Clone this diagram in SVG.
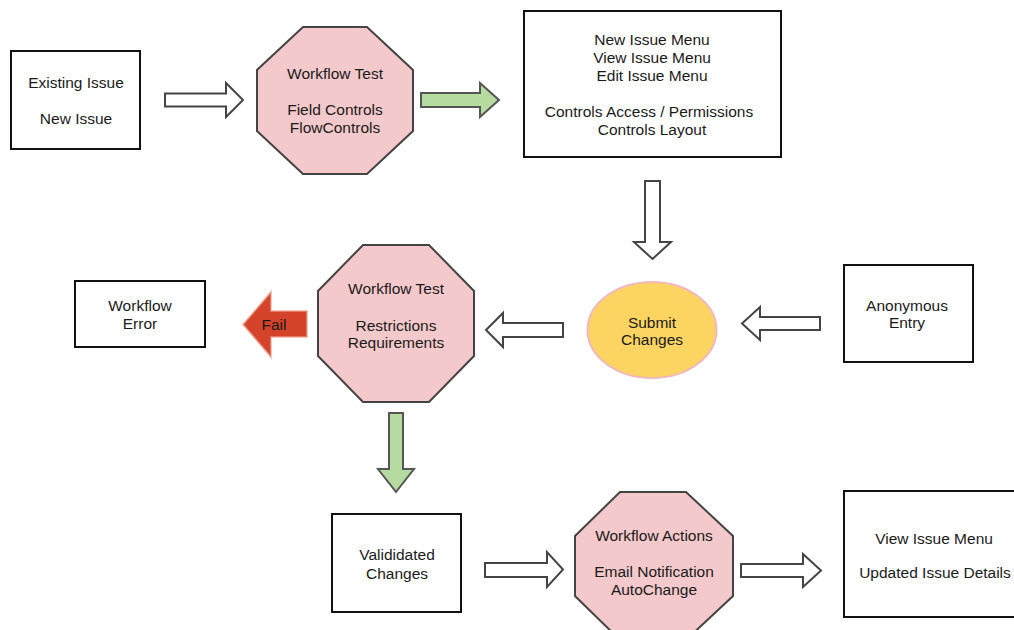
<svg xmlns="http://www.w3.org/2000/svg" width="1014" height="630" viewBox="0 0 1014 630">
<style>
text{font-family:"Liberation Sans",Arial,sans-serif;font-size:15.5px;fill:#1a1a1a;text-anchor:middle;dominant-baseline:central}
.box{fill:#fff;stroke:#111;stroke-width:2}
.oct{fill:#f4c9cb;stroke:#444;stroke-width:2}
.wa{fill:#fff;stroke:#444;stroke-width:2;stroke-linejoin:miter}
.ga{fill:#b5dba1;stroke:#555;stroke-width:2}
.ra{fill:#d4432a;stroke:#eaa090;stroke-width:2;stroke-opacity:0.6}
</style>
<rect width="1014" height="630" fill="#fff"/>
<g id="n-existing">
<rect class="box" x="11" y="51" width="129" height="98"/>
<text x="76" y="82">Existing Issue</text>
<text x="76" y="118">New Issue</text>
</g>
<g id="n-wftest1">
<polygon class="oct" points="303,27 367,27 413,70 413,131 367,174 303,174 257,131 257,70"/>
<text x="335" y="73">Workflow Test</text>
<text x="335" y="109">Field Controls</text>
<text x="335" y="127">FlowControls</text>
</g>
<g id="n-menus">
<rect class="box" x="524" y="11" width="257" height="146"/>
<text x="652" y="39">New Issue Menu</text>
<text x="652" y="57">View Issue Menu</text>
<text x="652" y="75">Edit Issue Menu</text>
<text x="649" y="111">Controls Access / Permissions</text>
<text x="652" y="129">Controls Layout</text>
</g>
<g id="n-submit">
<ellipse cx="652" cy="330" rx="64.5" ry="48" fill="#fcd462" stroke="#f0b8c0" stroke-width="2"/>
<text x="652" y="322">Submit</text>
<text x="652" y="339">Changes</text>
</g>
<g id="n-anon">
<rect class="box" x="844" y="265" width="129" height="97"/>
<text x="907" y="305">Anonymous</text>
<text x="907" y="322">Entry</text>
</g>
<g id="n-wftest2">
<polygon class="oct" points="363,245 429,245 474,291 474,356 429,402 363,402 318,356 318,291"/>
<text x="396" y="288">Workflow Test</text>
<text x="396" y="325">Restrictions</text>
<text x="396" y="342">Requirements</text>
</g>
<g id="n-error">
<rect class="box" x="75" y="281" width="130" height="66"/>
<text x="140" y="305">Workflow</text>
<text x="140" y="323">Error</text>
</g>
<g id="n-validated">
<rect class="box" x="332" y="514" width="129" height="98"/>
<text x="397" y="554">Valididated</text>
<text x="397" y="573">Changes</text>
</g>
<g id="n-actions">
<polygon class="oct" points="620,492 686,492 733,536 733,596 686,640 620,640 575,596 575,536"/>
<text x="654" y="535">Workflow Actions</text>
<text x="654" y="571">Email Notification</text>
<text x="654" y="589">AutoChange</text>
</g>
<g id="n-view">
<rect class="box" x="844" y="491" width="180" height="126"/>
<text x="934" y="538">View Issue Menu</text>
<text x="935" y="572">Updated Issue Details</text>
</g>
<g id="connectors">
<polygon class="wa" points="165,93.5 226,93.5 226,83 243,100 226,117 226,106.5 165,106.5"/>
<polygon class="ga" points="421,93 480,93 480,83 499,100 480,117 480,107 421,107"/>
<polygon class="wa" points="645,181 660,181 660,242 671,242 652.5,259 634,242 645,242"/>
<polygon class="wa" points="820,317 760,317 760,307 742,323.5 760,340 760,330 820,330"/>
<polygon class="wa" points="563,323 503,323 503,313 486,330 503,347 503,337 563,337"/>
<polygon class="ra" points="307,311 271,311 271,292 243,324.5 271,357 271,337 307,337"/>
<text x="274" y="324">Fail</text>
<polygon class="ga" points="389,413 403,413 403,469 414,469 396,492 378,469 389,469"/>
<polygon class="wa" points="485,563 547,563 547,552 563,569.5 547,587 547,577 485,577"/>
<polygon class="wa" points="741,564 803,564 803,554 821,570.5 803,587 803,577 741,577"/>
</g>
</svg>
